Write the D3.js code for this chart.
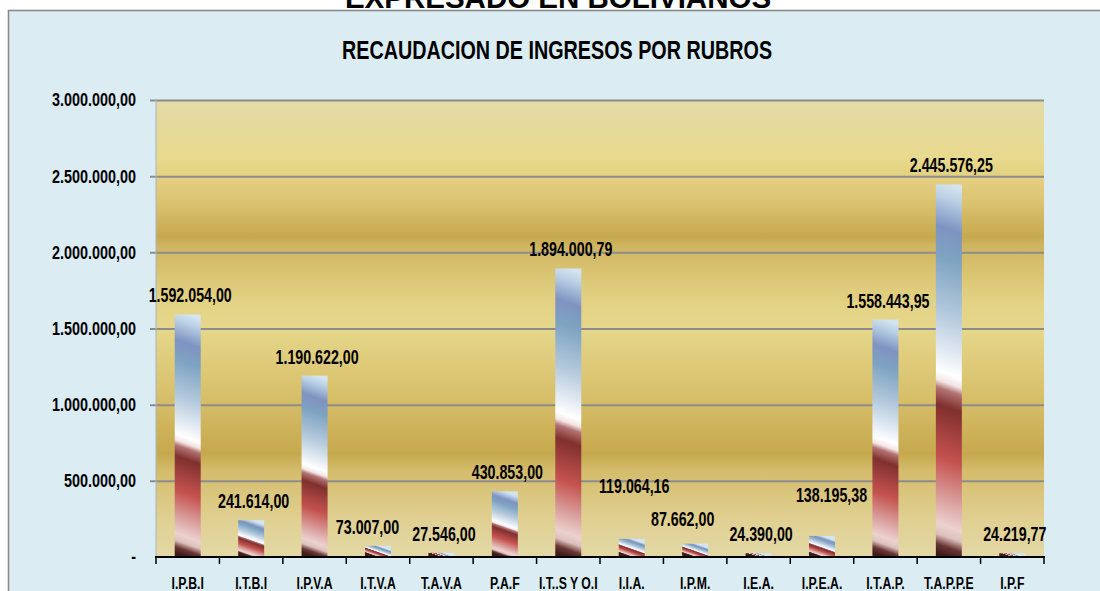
<!DOCTYPE html>
<html>
<head>
<meta charset="utf-8">
<script src="https://cdn.jsdelivr.net/npm/d3@7"></script>
<style>
  body { margin: 0; background: #ffffff; }
  svg { display: block; }
  .narrow { font-family: "Liberation Sans", Arial, sans-serif; font-weight: bold; }
</style>
</head>
<body>
<div id="chart"></div>
<script>
// data
const categories = ["I.P.B.I", "I.T.B.I", "I.P.V.A", "I.T.V.A", "T.A.V.A", "P.A.F", "I.T..S Y O.I",
    "I.I.A.", "I.P.M.", "I.E.A.", "I.P.E.A.", "I.T.A.P.", "T.A.P.P.E", "I.P.F"];
const values = [1592054.00, 241614.00, 1190622.00, 73007.00, 27546.00, 430853.00, 1894000.79,
    119064.16, 87662.00, 24390.00, 138195.38, 1558443.95, 2445576.25, 24219.77];
const yTicks = [0, 500000, 1000000, 1500000, 2000000, 2500000, 3000000];
const yMax = 3000000;
// hand moved labels in the original (dx, dy)
const labelNudge = [[0, 0], [0, 0], [0, 0], [-13, 0], [0, 0], [0, 0], [0, 0],
    [0, -34], [-15, -6], [0, 0], [7, -22], [0, 0], [0, 0], [0, 0]];

const W = 1100, H = 591;
const margin = {top: 100, right: 56, bottom: 34, left: 156};
const width = W - margin.left - margin.right;
const height = H - margin.top - margin.bottom;

const es = d3.formatLocale({decimal: ",", thousands: ".", grouping: [3], currency: ["", ""]});
const fmt = es.format(",.2f");

// no condensed font installed, so squeeze the text horizontally
function squeeze(sx, px, py) {
    return (d, i) => `translate(${px(d, i)},${py(d, i)}) scale(${sx},1)`;
}

const svg = d3.select("#chart").append("svg")
    .attr("width", W)
    .attr("height", H);

const defs = svg.append("defs");

// outer frame
svg.append("rect")
    .attr("x", 8.5).attr("y", 10.5)
    .attr("width", W + 20).attr("height", H + 20)
    .attr("fill", "#dbedf3")
    .attr("stroke", "#8a8a8a")
    .attr("stroke-width", 1.6);

svg.append("text")
    .attr("x", 558).attr("y", 8)
    .attr("text-anchor", "middle")
    .style("font-family", "'Liberation Sans', Arial, sans-serif")
    .style("font-weight", "bold")
    .style("font-size", "29.5px")
    .text("EXPRESADO EN BOLIVIANOS");

svg.append("text")
    .attr("class", "narrow")
    .attr("text-anchor", "middle")
    .attr("transform", "translate(557,59) scale(0.76,1)")
    .style("font-size", "26px")
    .text("RECAUDACION DE INGRESOS POR RUBROS");

const g = svg.append("g")
    .attr("transform", `translate(${margin.left},${margin.top})`);

// plot background, gold bands
const bg = defs.append("linearGradient")
    .attr("id", "plotBg")
    .attr("x1", 0).attr("y1", 0).attr("x2", 0).attr("y2", 1);
[[0, "#e3dba8"], [0.13, "#e8d98c"], [0.22, "#dcc472"], [0.30, "#c6a84e"], [0.318, "#cfb560"],
 [0.44, "#e3d284"], [0.50, "#e6d78a"], [0.65, "#d7bf6a"], [0.775, "#c6a84e"], [0.81, "#d4bc6c"],
 [0.92, "#e0d092"], [1, "#e3d8a6"]].forEach(s => {
    bg.append("stop").attr("offset", s[0]).attr("stop-color", s[1]);
});

g.append("rect")
    .attr("width", width)
    .attr("height", height)
    .attr("fill", "url(#plotBg)");

const x = d3.scaleBand()
    .domain(categories)
    .range([0, width])
    .paddingInner(0.59)
    .paddingOuter(0.295);

const y = d3.scaleLinear()
    .domain([0, yMax])
    .range([height, 0]);

// gridlines + y axis
const yAxis = g.append("g")
    .call(d3.axisLeft(y).tickValues(yTicks).tickSize(-width).tickFormat(""));
yAxis.select(".domain").remove();
yAxis.selectAll(".tick line")
    .attr("x1", -6)
    .attr("stroke", "#8c8c8c")
    .attr("stroke-width", 2);
yAxis.selectAll(".tick").filter(d => d === 0).remove();

g.append("line")
    .attr("x1", 0).attr("x2", 0)
    .attr("y1", 0).attr("y2", height)
    .attr("stroke", "#a9b4bc")
    .attr("stroke-width", 1);

g.append("g").selectAll("text")
    .data(yTicks)
    .join("text")
    .attr("class", "narrow")
    .attr("dy", "0.36em")
    .attr("text-anchor", "end")
    .attr("transform", squeeze(0.8, () => -20, d => y(d)))
    .style("font-size", "18px")
    .text(d => d === 0 ? "-" : fmt(d));

// bar gradients, slanted like the original
const slant = 0.35;
const barStops = [[0, "#d4e4f0"], [0.04, "#b8cfe4"], [0.12, "#7f93c1"], [0.2, "#7ea3c2"],
    [0.35, "#b4c9dc"], [0.46, "#e6edf4"], [0.51, "#ffffff"], [0.535, "#f2e4e4"], [0.555, "#b27272"],
    [0.6, "#80302e"], [0.68, "#a84442"], [0.74, "#c4524e"], [0.84, "#d89a98"], [0.92, "#ecd2cf"],
    [0.948, "#dcc0bc"], [0.975, "#6a3634"], [1, "#3e1c1a"]];

values.forEach((v, i) => {
    const cx = x(categories[i]) + x.bandwidth() / 2;
    const top = y(v);
    const h = height - top;
    const k = h / (1 + slant * slant);
    const grad = defs.append("linearGradient")
        .attr("id", "bar" + i)
        .attr("gradientUnits", "userSpaceOnUse")
        .attr("x1", cx).attr("y1", top)
        .attr("x2", cx - slant * k).attr("y2", top + k);
    barStops.forEach(s => grad.append("stop").attr("offset", s[0]).attr("stop-color", s[1]));
});

g.selectAll(".bar")
    .data(values)
    .join("rect")
    .attr("class", "bar")
    .attr("x", (d, i) => x(categories[i]))
    .attr("y", d => y(d))
    .attr("width", x.bandwidth())
    .attr("height", d => height - y(d))
    .attr("fill", (d, i) => `url(#bar${i})`);

// x axis
const step = x.step();
g.append("line")
    .attr("x1", -1).attr("x2", width + 1)
    .attr("y1", height).attr("y2", height)
    .attr("stroke", "#000")
    .attr("stroke-width", 2);

g.append("g").selectAll("line")
    .data(d3.range(categories.length + 1))
    .join("line")
    .attr("x1", i => i * step).attr("x2", i => i * step)
    .attr("y1", height).attr("y2", height + 7)
    .attr("stroke", "#000")
    .attr("stroke-width", 1.5);

g.append("g").selectAll("text")
    .data(categories)
    .join("text")
    .attr("class", "narrow")
    .attr("text-anchor", "middle")
    .attr("transform", squeeze(0.72, d => x(d) + x.bandwidth() / 2, () => height + 32))
    .style("font-size", "17px")
    .text(d => d);

// value labels
g.append("g").selectAll("text")
    .data(values)
    .join("text")
    .attr("class", "narrow")
    .attr("text-anchor", "middle")
    .attr("transform", squeeze(0.73,
        (d, i) => x(categories[i]) + x.bandwidth() / 2 + 2.5 + labelNudge[i][0],
        (d, i) => y(d) - 12 + labelNudge[i][1]))
    .style("font-size", "19.5px")
    .text(d => fmt(d));
</script>
</body>
</html>
